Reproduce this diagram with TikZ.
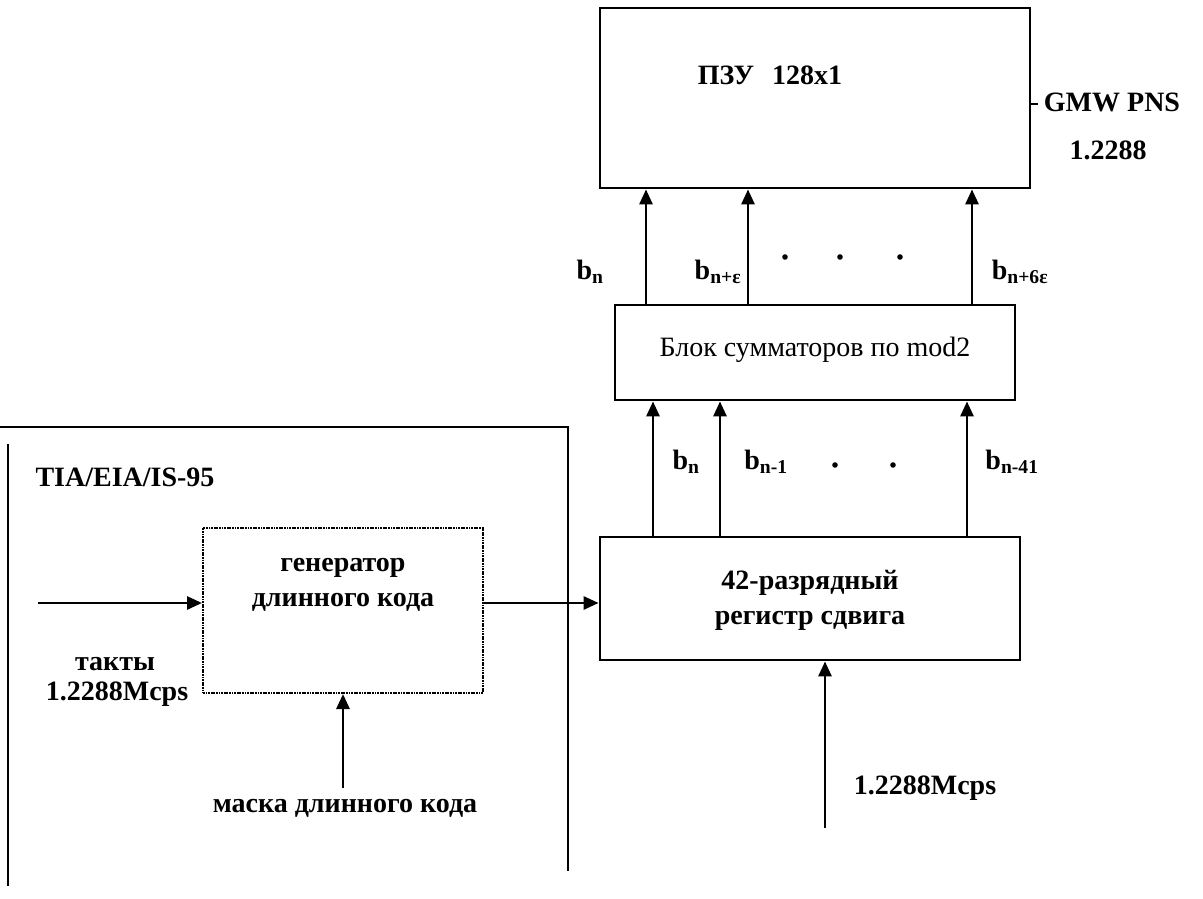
\documentclass[tikz,border=0pt]{standalone}
\usepackage{fontspec}
\setmainfont{Liberation Serif}
\usetikzlibrary{arrows.meta}
\begin{document}
\begin{tikzpicture}[x=1pt,y=-1pt,
    blok/.style={draw,line width=2.8pt,inner sep=0pt},
    tochki/.style={draw,line width=2pt,dash pattern=on 1.8pt off 0.8pt,inner sep=0pt},
    strel/.style={line width=2.8pt,-{Triangle[length=15pt,width=13pt]}},
    rama/.style={line width=2pt},
    lbl/.style={font=\fontsize{28}{32}\selectfont\bfseries,inner sep=0pt,align=center},
    obych/.style={font=\fontsize{28}{32}\selectfont,inner sep=0pt}]
    \useasboundingbox (0,0) rectangle (1203,899);

    % bloki
    \node[blok,minimum width=430pt,minimum height=180pt] (rom) at (815,98) {};
    \node[blok,minimum width=400pt,minimum height=95pt] (add) at (815,352.5) {};
    \node[blok,minimum width=420pt,minimum height=123pt] (reg) at (810,598.5) {};
    \node[tochki,minimum width=280pt,minimum height=165pt] (gen) at (343,610.5) {};

    \node[lbl] (romtxt) at (770,75) {ПЗУ\hspace{18pt}128x1};
    \node[obych] (addtxt) at (815,350) {Блок сумматоров по mod2};
    \node[lbl,font=\fontsize{28}{35}\selectfont\bfseries] (regtxt) at (810,600) {42-разрядный\\регистр сдвига};
    \node[lbl,font=\fontsize{28}{35}\selectfont\bfseries] (gentxt) at (343,585) {генератор\\длинного кода};

    % vyhod PZU
    \coordinate (vyh) at (1038,104);
    \draw[rama] (rom.east |- vyh) -- (vyh);
    \node[lbl] (gmw) at (1112,102) {GMW PNS};
    \node[lbl] (chast) at (1108,150) {1.2288};

    % summatory -> PZU
    \coordinate (u1) at (646,0);
    \coordinate (u2) at (748,0);
    \coordinate (u3) at (972,0);
    \foreach \u in {u1,u2,u3}
        \draw[strel] (add.north -| \u) -- (rom.south -| \u);
    \node[lbl] (bv1) at (590,272) {b\textsubscript{n}};
    \node[lbl] (bv2) at (718,272) {b\textsubscript{n+ε}};
    \node[lbl] (bv3) at (1020,272) {b\textsubscript{n+6ε}};
    \foreach \x in {785,840,900}
        \fill (\x,257) circle (2.8pt);

    % registr -> summatory
    \coordinate (d1) at (653,0);
    \coordinate (d2) at (720,0);
    \coordinate (d3) at (967,0);
    \foreach \d in {d1,d2,d3}
        \draw[strel] (reg.north -| \d) -- (add.south -| \d);
    \node[lbl] (bn1) at (686,462) {b\textsubscript{n}};
    \node[lbl] (bn2) at (766,462) {b\textsubscript{n-1}};
    \node[lbl] (bn3) at (1012,462) {b\textsubscript{n-41}};
    \foreach \x in {835,893}
        \fill (\x,465) circle (2.8pt);

    % takty registra
    \coordinate (tr) at (825,828);
    \draw[strel] (tr) -- (reg.south -| tr);
    \node[lbl] (trtxt) at (925,788) {1.2288Mcps};

    % generator
    \coordinate (vh) at (38,603);
    \draw[strel] (vh) -- (gen.west |- vh);
    \draw[strel] (gen.east |- vh) -- (reg.west |- vh);
    \node[lbl] (takty) at (115,664) {такты};
    \node[lbl] (tchast) at (117,694) {1.2288Mcps};
    \coordinate (mk) at (343,788);
    \draw[strel] (mk) -- (gen.south -| mk);
    \node[lbl] (maska) at (345,808) {маска длинного кода};

    % ramka standarta
    \draw[rama] (0,427) -- (568,427) -- (568,871);
    \draw[rama] (8,444) -- (8,886);
    \node[lbl] (tia) at (125,477) {TIA/EIA/IS-95};
\end{tikzpicture}
\end{document}
